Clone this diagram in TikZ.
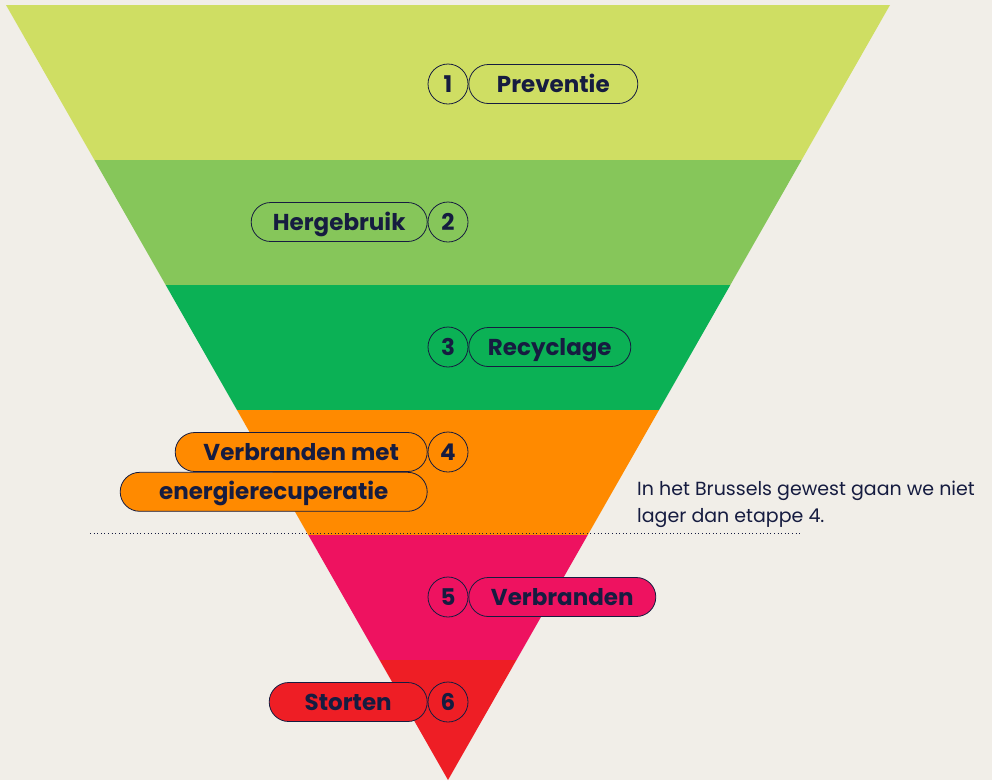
\documentclass[tikz,border=0pt]{standalone}
\usepackage{fontspec}
\setmainfont{Poppins}
\usepackage{xcolor}
\usepackage{tikz}
\usetikzlibrary{shapes.misc, positioning, calc}

\definecolor{achtergrond}{HTML}{F1EEE8}
\definecolor{inkt}{HTML}{161C40}
\definecolor{preventie}{HTML}{CFDE63}
\definecolor{hergebruik}{HTML}{86C65A}
\definecolor{recyclage}{HTML}{0BB155}
\definecolor{energie}{HTML}{FF8A00}
\definecolor{verbranden}{HTML}{EE1260}
\definecolor{storten}{HTML}{EE1E25}

\begin{document}
\begin{tikzpicture}[x=1pt,y=-1pt,
    nummer/.style={circle,draw=inkt,line width=0.8pt,minimum size=40pt,inner sep=0pt,
      text=inkt,text height=16pt,text depth=0pt,font=\fontsize{23}{27}\selectfont\bfseries},
    pil/.style={rounded rectangle,draw=inkt,line width=0.8pt,minimum height=39pt,inner sep=0pt,
      text=inkt,text height=16pt,text depth=0pt,font=\fontsize{23}{27}\selectfont\bfseries}]
  \useasboundingbox[fill=achtergrond] (0,0) rectangle (992,780);

  % trechter
  \coordinate (tl) at (6,5);
  \coordinate (tr) at (890,5);
  \coordinate (top) at (448,780);
  \begin{scope}
    \clip (tl) -- (tr) -- (top) -- cycle;
    \foreach \ya/\yb/\kleur in {0/160/preventie, 160/285/hergebruik, 285/410/recyclage,
      410/535/energie, 535/660/verbranden, 660/790/storten}
      \fill[\kleur] (0,\ya) rectangle (992,\yb);
  \end{scope}

  % etappes
  \node[nummer] (n1) at (448,84) {1};
  \node[pil,fill=preventie,minimum width=169pt,right=0pt of n1] (l1) {Preventie};

  \node[nummer] (n2) at (448,222) {2};
  \node[pil,fill=hergebruik,minimum width=176pt,left=0pt of n2] (l2) {Hergebruik};

  \node[nummer] (n3) at (448,347) {3};
  \node[pil,fill=recyclage,minimum width=162pt,right=0pt of n3] (l3) {Recyclage};

  \node[nummer] (n4) at (448,452) {4};
  \node[pil,fill=energie,minimum width=252pt,left=0pt of n4] (l4a) {Verbranden met};
  \node[pil,fill=energie,minimum width=307pt,anchor=north east] (l4b) at (l4a.south east) {energierecuperatie};

  \node[nummer] (n5) at (448,597) {5};
  \node[pil,fill=verbranden,minimum width=187pt,right=0pt of n5] (l5) {Verbranden};

  \node[nummer] (n6) at (448,702) {6};
  \node[pil,fill=storten,minimum width=158pt,left=0pt of n6] (l6) {Storten};

  % grens
  \coordinate (g1) at (90,533);
  \coordinate (g2) at (800,533);
  \draw[inkt,line width=1pt,dash pattern=on 1pt off 2.6pt] (g1) -- (g2);
  \node[anchor=north west,align=left,inner sep=0pt,text=inkt,
    font=\fontsize{19}{27}\selectfont] (noot) at (637,481)
    {In het Brussels gewest gaan we niet\\lager dan etappe 4.};
\end{tikzpicture}
\end{document}
